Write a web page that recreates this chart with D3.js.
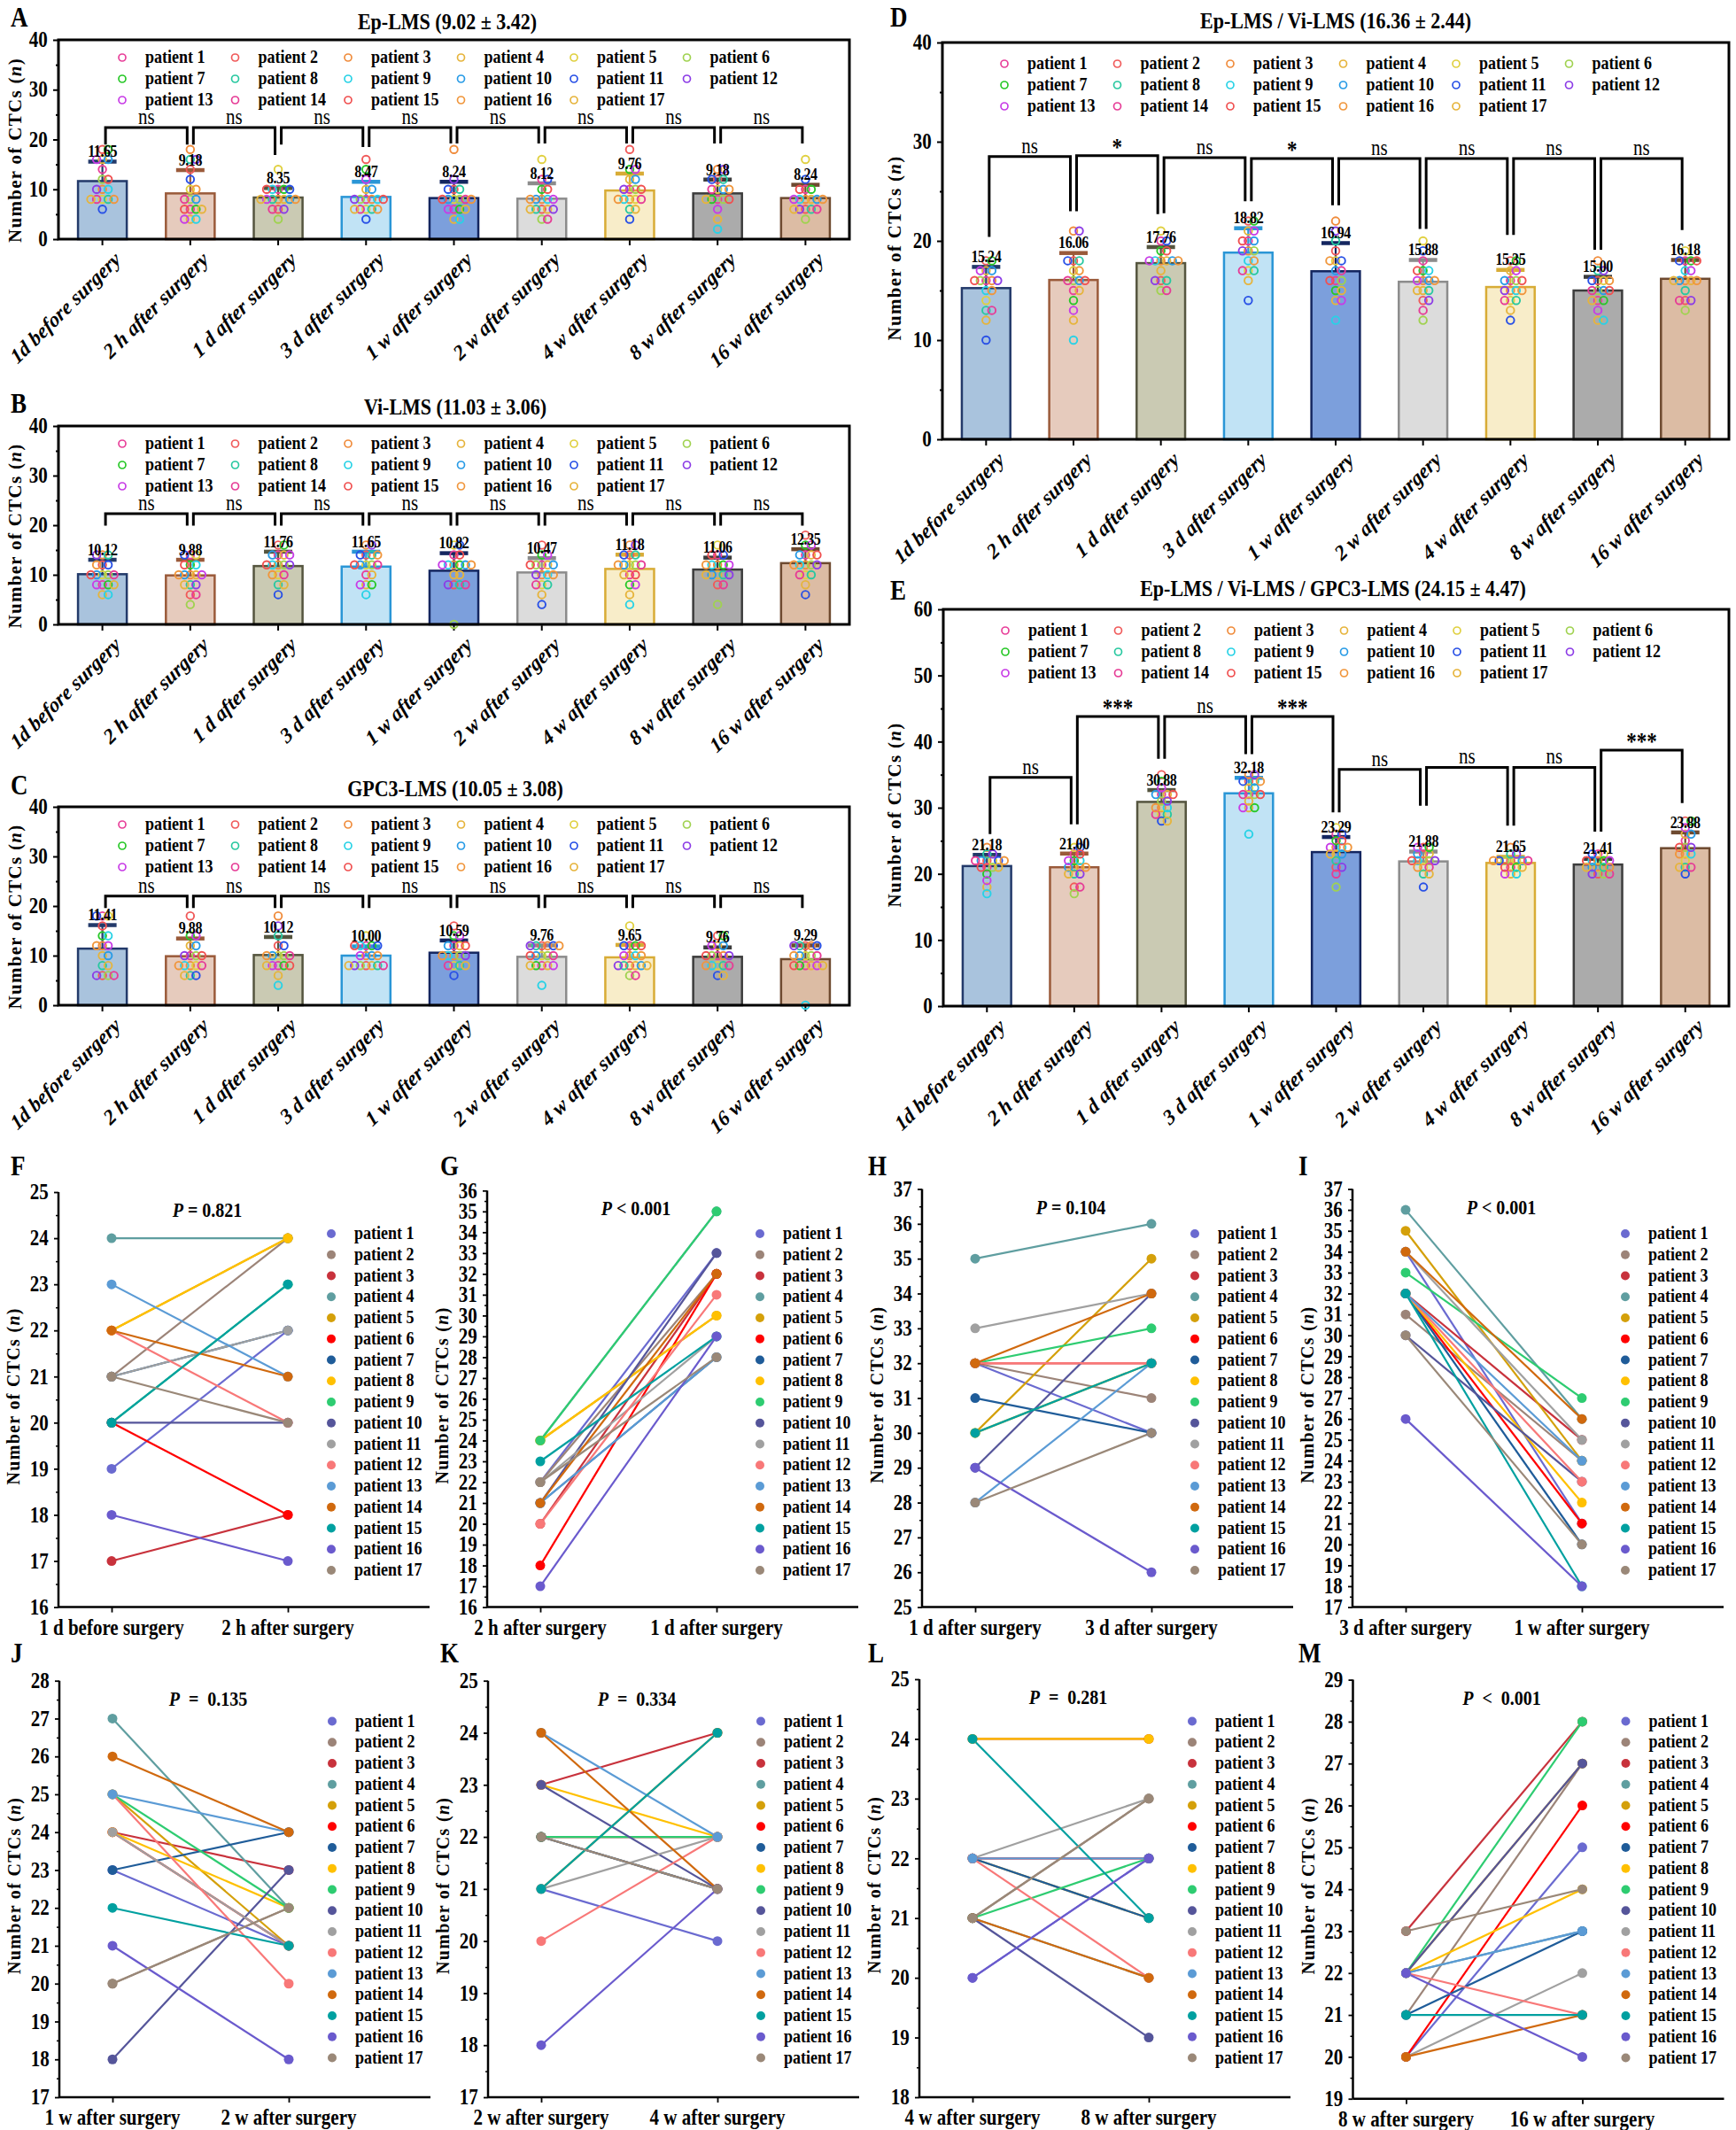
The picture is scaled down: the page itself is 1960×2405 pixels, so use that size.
<!DOCTYPE html>
<html><head><meta charset="utf-8">
<script src="https://d3js.org/d3.v7.min.js"></script>
<style>body{margin:0;background:#fff}</style>
</head><body>
<svg id="c" width="1960" height="2405" xmlns="http://www.w3.org/2000/svg"></svg>
<script>
// ---------------- DATA ----------------
const timepoints = ["1d before surgery","2 h after surgery","1 d after surgery","3 d after surgery","1 w after surgery","2 w after surgery","4 w after surgery","8 w after surgery","16 w after surgery"];
const patients = ["patient 1","patient 2","patient 3","patient 4","patient 5","patient 6","patient 7","patient 8","patient 9","patient 10","patient 11","patient 12","patient 13","patient 14","patient 15","patient 16","patient 17"];
const barFill   = ["#a9c3dd","#e6cbbd","#cacab3","#c1e3f5","#7c9fdc","#dcdcdc","#f8edc9","#ababab","#dcbca4"];
const barStroke = ["#233a6a","#9a5a3a","#55553f","#2a96d6","#142660","#8c8c8c","#d8ac36","#3c3c3c","#6e4a30"];
const dotColors = ["#e8409a","#f05a5a","#f08c3c","#e6b43c","#e0d040","#a0d250","#28c828","#28c8a0","#28d2e6","#289be6","#2850e6","#8c3ce6","#c83ce6","#e63c96","#f05050","#f0963c","#e6b43c"];
const lineColors = ["#6a6ad0","#9c8478","#c8323c","#5f9ea0","#d4a00a","#ff0000","#1f5c99","#ffc000","#2ecc71","#55559a","#a0a0a0","#f87878","#5b9bd5","#d0690e","#00a0a0","#6a5acd","#9a8878"];

// Panel A: Ep-LMS
const meansEp = [11.65,9.18,8.35,8.47,8.24,8.12,9.76,9.18,8.24];
const sdsEp   = [3.95,4.72,1.95,3.08,3.31,3.13,3.44,2.82,2.71];
const pointsEp = [
 [14,18,10,16,8,12,18,8,10,16,6,10,16,8,12,8,8],
 [6,14,18,4,10,8,6,16,4,8,12,16,4,8,6,10,6],
 [10,6,8,8,14,4,10,8,10,8,10,6,8,6,10,8,8],
 [8,16,8,10,6,8,14,6,8,10,4,8,12,6,8,6,6],
 [6,10,18,4,8,8,6,10,4,8,10,12,6,8,8,8,6],
 [12,6,8,6,16,4,10,6,8,8,12,6,8,4,10,8,6],
 [10,18,8,12,8,10,14,6,8,12,4,10,14,8,10,8,6],
 [8,12,14,4,10,8,8,12,2,10,12,14,6,10,8,10,8],
 [10,6,8,8,16,4,10,6,8,8,12,6,8,6,10,8,6]];
const sigEp = ["ns","ns","ns","ns","ns","ns","ns","ns"];
const brTopEp = [22.4,22.4,22.4,22.4,22.4,22.4,22.4,22.4];
const brLeftEp = [19.0,19.0,19.0,18.5,19.2,19.2,19.2,19.2];
const brRightEp = [19.0,16.9,18.5,19.2,19.2,19.2,19.2,19.2];

// Panel B: Vi-LMS
const meansVi = [10.12,9.88,11.76,11.65,10.82,10.47,11.18,11.06,12.35];
const sdsVi   = [2.95,3.19,2.94,3.05,3.58,2.93,2.92,2.44,2.85];
const pointsVi = [
 [8,12,14,6,10,10,8,14,6,10,12,14,8,10,10,12,8],
 [14,6,10,10,14,4,12,8,12,10,14,8,10,6,12,10,8],
 [14,16,12,14,10,12,16,8,12,14,6,12,14,10,12,10,8],
 [10,14,16,8,12,12,8,14,6,12,14,16,8,12,12,14,10],
 [14,8,12,10,16,0,12,8,12,12,16,8,12,8,14,12,10],
 [12,16,10,12,8,12,14,8,10,12,4,10,14,8,12,10,6],
 [10,14,16,6,12,12,8,14,4,12,14,16,8,12,10,12,10],
 [14,8,12,10,16,4,12,10,12,10,14,10,12,8,14,12,10],
 [14,18,12,14,10,12,16,10,12,14,6,12,16,10,14,12,8]];
const sigVi = ["ns","ns","ns","ns","ns","ns","ns","ns"];
const brTopVi = [22.3,22.3,22.3,22.3,22.3,22.3,22.3,22.3];
const brLeftVi = [19.9,19.9,19.9,19.9,19.9,19.9,19.9,19.9];
const brRightVi = [19.9,19.9,19.9,19.9,19.9,19.9,19.9,19.9];

// Panel C: GPC3-LMS
const meansGp = [11.41,9.88,10.12,10.00,10.59,9.76,9.65,9.76,9.29];
const sdsGp   = [4.79,3.62,3.68,1.90,2.51,2.34,2.55,1.94,2.81];
const pointsGp = [
 [18,6,12,10,18,6,14,8,14,10,18,6,12,6,16,12,8],
 [10,18,8,12,8,10,14,6,8,12,6,10,14,8,10,8,6],
 [8,12,18,6,10,10,8,14,4,10,12,16,8,10,8,10,8],
 [12,8,10,8,14,8,12,8,12,10,12,8,10,8,12,10,8],
 [12,16,10,12,8,10,14,8,10,12,6,10,14,8,12,10,8],
 [8,12,12,8,10,10,8,12,4,10,12,12,8,10,10,12,8],
 [12,8,10,8,16,6,12,8,10,8,12,8,10,6,12,10,8],
 [10,14,10,12,8,10,14,8,8,12,6,10,12,8,10,8,6],
 [8,12,12,8,10,10,8,12,0,10,12,12,8,10,8,10,8]];
const sigGp = ["ns","ns","ns","ns","ns","ns","ns","ns"];
const brTopGp = [22.0,22.0,22.0,22.0,22.0,22.0,22.0,22.0];
const brLeftGp = [19.6,19.6,19.6,19.6,19.6,19.6,19.6,19.6];
const brRightGp = [19.6,19.6,19.6,19.6,19.6,19.6,19.6,19.6];

// Panel D: Ep-LMS / Vi-LMS
const meansEV = [15.24,16.06,17.76,18.82,16.94,15.88,15.35,15.00,16.18];
const sdsEV   = [2.16,2.74,1.64,2.48,2.86,2.22,1.75,1.40,1.92];
const pointsEV = [
 [16,18,16,17,14,16,18,13,15,17,10,16,17,13,16,15,12],
 [15,18,21,12,17,16,14,18,10,16,18,21,13,16,16,17,15],
 [20,16,18,18,21,15,19,16,18,18,20,16,18,15,19,18,17],
 [20,22,19,21,17,19,22,17,18,20,14,19,21,17,20,18,16],
 [16,19,22,14,18,16,15,20,12,17,18,21,14,17,16,18,15],
 [18,14,16,15,20,12,17,15,17,16,19,14,16,13,17,16,15],
 [16,18,15,17,14,16,18,14,15,16,12,15,17,14,16,15,13],
 [14,16,18,12,16,15,14,17,12,15,16,17,13,15,15,16,14],
 [18,14,16,16,19,13,18,15,17,16,18,14,17,14,18,16,16]];
const sigEV = ["ns","*","ns","*","ns","ns","ns","ns"];
const brTopEV = [28.5,28.6,28.4,28.3,28.3,28.3,28.3,28.3];
const brLeftEV = [20.4,23.0,22.8,24.0,23.6,21.2,20.6,19.1];
const brRightEV = [23.0,22.7,24.0,23.6,21.2,20.6,19.1,21.1];

// Panel E: Ep-LMS / Vi-LMS / GPC3-LMS
const meansEVG = [21.18,21.00,30.88,32.18,23.29,21.88,21.65,21.41,23.88];
const sdsEVG   = [1.72,2.10,1.82,2.37,2.31,1.52,0.95,0.89,2.42];
const pointsEVG = [
 [21,22,24,18,22,21,20,23,17,22,22,23,19,22,21,22,21],
 [23,18,21,21,24,17,22,20,22,21,24,20,22,18,23,21,20],
 [32,35,30,32,29,31,34,29,30,32,28,31,33,29,32,30,28],
 [32,34,35,30,33,32,30,34,26,33,34,35,30,32,32,34,31],
 [26,21,24,23,27,18,25,22,24,23,26,21,24,20,25,24,23],
 [23,24,22,23,21,22,24,20,22,23,18,22,24,21,22,21,20],
 [21,22,24,20,22,22,21,23,20,22,22,23,20,22,21,22,21],
 [23,20,22,21,23,20,22,21,22,21,23,20,22,20,22,21,21],
 [25,28,23,26,22,24,28,21,23,26,20,24,27,21,24,23,21]];
const sigEVG = ["ns","***","ns","***","ns","ns","ns","***"];
const brTopEVG = [34.6,43.8,43.8,43.8,35.8,36.1,36.1,38.7];
const brLeftEVG = [26.0,27.5,37.4,38.1,29.3,30.3,27.3,26.4];
const brRightEVG = [27.5,37.4,38.1,29.3,30.3,27.3,26.4,30.7];

// Paired panels F-M
const beforeF = [19,21,17,24,22,20,21,22,20,20,21,22,23,22,20,18,21];
const afterF  = [22,24,18,24,24,18,22,24,23,20,22,20,21,21,23,17,20];
const beforeG = [22,22,20,24,24,18,21,24,24,21,22,20,21,21,23,17,22];
const afterG  = [33,32,32,35,30,32,28,30,35,33,29,31,28,32,29,29,28];
const beforeH = [32,32,32,35,30,32,31,30,32,29,33,32,28,32,30,29,28];
const afterH  = [30,31,32,36,35,32,30,32,33,34,34,32,32,34,32,26,30];
const beforeI = [34,31,32,36,35,32,32,32,33,30,34,32,32,34,32,26,30];
const afterI  = [21,24,25,26,24,21,20,22,27,23,25,23,24,26,18,18,20];
const beforeJ = [23,20,24,27,25,24,23,24,25,18,24,25,25,26,22,21,20];
const afterJ  = [21,22,23,22,21,21,24,22,22,23,21,20,24,24,21,18,22];
const beforeK = [21,22,23,22,21,22,22,23,22,23,21,20,24,24,21,18,22];
const afterK  = [20,21,24,22,24,22,21,22,22,21,22,22,22,21,24,21,21];
const beforeL = [20,21,24,21,22,22,22,24,21,21,22,22,22,21,24,20,21];
const afterL  = [22,23,24,20,21,22,21,24,22,19,23,20,22,20,21,22,23];
const beforeM = [20,21,23,22,22,20,21,22,22,22,20,22,22,20,21,22,23];
const afterM  = [25,27,28,23,27,26,23,24,28,27,22,21,23,21,21,20,24];

// ---------------- DRAWING ----------------
const FONT = "'Liberation Serif','Times New Roman',serif";
const SX = 0.87, SK = 1.15;   // tall-narrow text look of the original
const svg = d3.select("#c");
svg.append("rect").attr("width",1960).attr("height",2405).attr("fill","#fff");

function txt(g, x, y, s, size, opts={}) {
  return g.append("text").attr("transform",`translate(${x},${y}) scale(${SX},1)`).text(s)
    .attr("font-family",FONT).attr("font-size",size*SK)
    .attr("font-weight",opts.weight||"bold")
    .attr("font-style",opts.style||"normal")
    .attr("text-anchor",opts.anchor||"start")
    .attr("fill","#000");
}
function yLabel(g, x, y, size) {
  const t = g.append("text").attr("transform",`translate(${x},${y}) rotate(-90)`)
    .attr("text-anchor","middle").attr("font-family",FONT).attr("font-weight","bold")
    .attr("font-size",size).attr("letter-spacing","1.3px");
  t.append("tspan").text("Number of CTCs (");
  t.append("tspan").attr("font-style","italic").text("n");
  t.append("tspan").text(")");
}
function styleTickText(sel, size) {
  sel.selectAll("text").attr("font-family",FONT).attr("font-size",size*SK).attr("font-weight","bold")
    .attr("fill","#000").attr("transform",`scale(${SX},1)`);
}

function barPanel(o) {
  const g = svg.append("g");
  const x = d3.scaleBand().domain(timepoints).range([o.x0,o.x1]).paddingInner(0.445).paddingOuter(0.2225);
  const y = d3.scaleLinear().domain([0,o.yMax]).range([o.yB,o.yT]);
  const cx = c => x(c) + x.bandwidth()/2;

  const major = d3.range(0, o.yMax+1, 10);
  const minor = d3.range(5, o.yMax, 10);
  const ax = g.append("g").attr("transform",`translate(${o.x0},0)`)
    .call(d3.axisLeft(y).tickValues(major).tickSize(6).tickPadding(8).tickFormat(d3.format("d")));
  ax.select(".domain").remove();
  ax.selectAll("line").attr("stroke","#000").attr("stroke-width",2);
  styleTickText(ax, 21);
  const axm = g.append("g").attr("transform",`translate(${o.x0},0)`)
    .call(d3.axisLeft(y).tickValues(minor).tickSize(3).tickFormat(""));
  axm.select(".domain").remove();
  axm.selectAll("line").attr("stroke","#000").attr("stroke-width",2);

  const bx = g.append("g").attr("transform",`translate(0,${o.yB})`)
    .call(d3.axisBottom(x).tickSize(7).tickFormat(""));
  bx.select(".domain").remove();
  bx.selectAll("line").attr("stroke","#000").attr("stroke-width",2);
  timepoints.forEach(c => {
    g.append("text").attr("transform",`translate(${cx(c)+22},${o.yB+25}) scale(1,1.1) rotate(-42)`)
      .attr("text-anchor","end").attr("font-family",FONT).attr("font-size",22)
      .attr("font-weight","bold").attr("font-style","italic").text(c);
  });

  g.selectAll(".bar").data(timepoints).enter().append("rect")
    .attr("x", c=>x(c)).attr("width", x.bandwidth())
    .attr("y", (c,i)=>y(o.means[i])).attr("height",(c,i)=>o.yB - y(o.means[i]))
    .attr("fill",(c,i)=>barFill[i]).attr("stroke",(c,i)=>barStroke[i]).attr("stroke-width",2.5);

  timepoints.forEach((c,i) => {
    const top = y(o.means[i]+o.sds[i]);
    g.append("line").attr("x1",cx(c)).attr("x2",cx(c)).attr("y1",y(o.means[i])).attr("y2",top)
      .attr("stroke",barStroke[i]).attr("stroke-width",2.2);
    g.append("rect").attr("x",cx(c)-16).attr("width",32).attr("y",top-2).attr("height",4.5)
      .attr("fill",barStroke[i]);
  });

  timepoints.forEach((c,i) => {
    const seen = {};
    o.pts[i].forEach((v,p) => {
      const k = seen[v] || 0; seen[v] = k+1;
      const off = k===0 ? 0 : (k%2===1 ? 1 : -1) * Math.ceil(k/2) * 6.5;
      g.append("circle").attr("cx",cx(c)+off).attr("cy",y(v)).attr("r",4.3)
        .attr("fill","none").attr("stroke",dotColors[p]).attr("stroke-width",1.9);
    });
  });

  timepoints.forEach((c,i) => {
    txt(g, cx(c), y(o.means[i]+o.sds[i]) - 5, o.means[i].toFixed(2), 16, {anchor:"middle"})
      .attr("letter-spacing","-0.5px");
  });

  for (let j=0;j<8;j++) {
    const xa = cx(timepoints[j]) + 3.5, xb = cx(timepoints[j+1]) - 3.5;
    g.append("path").attr("d",`M${xa},${y(o.brL[j])}V${y(o.brT[j])}H${xb}V${y(o.brR[j])}`)
      .attr("fill","none").attr("stroke","#000").attr("stroke-width",3);
    const isStar = o.sig[j] !== "ns";
    txt(g,(xa+xb)/2, y(o.brT[j]) - (isStar? 1 : 4), o.sig[j], isStar?23:21, {anchor:"middle", weight: isStar?"bold":"normal"});
  }

  g.append("rect").attr("x",o.x0).attr("y",o.yT).attr("width",o.x1-o.x0).attr("height",o.yB-o.yT)
    .attr("fill","none").attr("stroke","#000").attr("stroke-width",3);

  patients.forEach((p,i) => {
    const r = Math.floor(i/6), c = i%6;
    const lx = o.x0 + o.legX + c*127.5, ly = o.yT + o.legY + r*24;
    g.append("circle").attr("cx",lx).attr("cy",ly).attr("r",4).attr("fill","none")
      .attr("stroke",dotColors[i]).attr("stroke-width",1.7);
    txt(g, lx+26, ly+6, p, 18);
  });

  txt(g, o.tx, o.ty, o.title, 22, {anchor:"middle"});
  txt(g, o.lx, o.ly, o.letter, 27);
  yLabel(g, o.ylx, (o.yT+o.yB)/2 + o.ylOff, 21);
}

barPanel({letter:"A",lx:12,ly:30,title:"Ep-LMS (9.02 \u00b1 3.42)",tx:505,ty:33,x0:66,x1:959,yT:45,yB:270,yMax:40,
  means:meansEp,sds:sdsEp,pts:pointsEp,sig:sigEp,brT:brTopEp,brL:brLeftEp,brR:brRightEp,legX:72,legY:20,ylx:24,ylOff:12});
barPanel({letter:"B",lx:12,ly:466,title:"Vi-LMS (11.03 \u00b1 3.06)",tx:514,ty:468,x0:66,x1:959,yT:481,yB:705,yMax:40,
  means:meansVi,sds:sdsVi,pts:pointsVi,sig:sigVi,brT:brTopVi,brL:brLeftVi,brR:brRightVi,legX:72,legY:20,ylx:24,ylOff:12});
barPanel({letter:"C",lx:12,ly:897,title:"GPC3-LMS (10.05 \u00b1 3.08)",tx:514,ty:899,x0:66,x1:959,yT:911,yB:1135,yMax:40,
  means:meansGp,sds:sdsGp,pts:pointsGp,sig:sigGp,brT:brTopGp,brL:brLeftGp,brR:brRightGp,legX:72,legY:20,ylx:24,ylOff:12});
barPanel({letter:"D",lx:1005,ly:30,title:"Ep-LMS / Vi-LMS (16.36 \u00b1 2.44)",tx:1508,ty:32,x0:1064,x1:1952,yT:48,yB:496,yMax:40,
  means:meansEV,sds:sdsEV,pts:pointsEV,sig:sigEV,brT:brTopEV,brL:brLeftEV,brR:brRightEV,legX:70,legY:24,ylx:1017,ylOff:8});
barPanel({letter:"E",lx:1005,ly:677,title:"Ep-LMS / Vi-LMS / GPC3-LMS (24.15 \u00b1 4.47)",tx:1505,ty:673,x0:1065,x1:1952,yT:688,yB:1136,yMax:60,
  means:meansEVG,sds:sdsEVG,pts:pointsEVG,sig:sigEVG,brT:brTopEVG,brL:brLeftEVG,brR:brRightEVG,legX:70,legY:24,ylx:1017,ylOff:8});

function pairPanel(o) {
  const g = svg.append("g");
  const x = d3.scalePoint().domain(o.labels).range([o.x0+60, o.x0+259]);
  const y = d3.scaleLinear().domain([o.yMin,o.yMax]).range([o.yB,o.yT]);
  const major = d3.range(o.yMin, o.yMax+0.01, 1);
  const minor = d3.range(o.yMin+0.5, o.yMax, 1);
  const ax = g.append("g").attr("transform",`translate(${o.x0},0)`)
    .call(d3.axisLeft(y).tickValues(major).tickSize(5).tickPadding(8).tickFormat(d3.format("d")));
  ax.select(".domain").attr("stroke","#000").attr("stroke-width",2.5).attr("d",`M0,${o.yB}V${o.yT}`);
  ax.selectAll("line").attr("stroke","#000").attr("stroke-width",1.8);
  styleTickText(ax, 21);
  const axm = g.append("g").attr("transform",`translate(${o.x0},0)`)
    .call(d3.axisLeft(y).tickValues(minor).tickSize(3).tickFormat(""));
  axm.select(".domain").remove();
  axm.selectAll("line").attr("stroke","#000").attr("stroke-width",1.5);
  const bx = g.append("g").attr("transform",`translate(0,${o.yB})`)
    .call(d3.axisBottom(x).tickSize(6).tickFormat(""));
  bx.select(".domain").attr("d",`M${o.x0},0H${o.x0+419}`).attr("stroke","#000").attr("stroke-width",2.5);
  bx.selectAll("line").attr("stroke","#000").attr("stroke-width",1.8);
  o.labels.forEach(l => txt(g, x(l), o.yB+31, l, 21, {anchor:"middle"}));

  patients.forEach((p,i) => {
    g.append("line").attr("x1",x(o.labels[0])).attr("y1",y(o.before[i]))
      .attr("x2",x(o.labels[1])).attr("y2",y(o.after[i]))
      .attr("stroke",lineColors[i]).attr("stroke-width",2.2);
  });
  patients.forEach((p,i) => {
    g.append("circle").attr("cx",x(o.labels[0])).attr("cy",y(o.before[i])).attr("r",5.5).attr("fill",lineColors[i]);
    g.append("circle").attr("cx",x(o.labels[1])).attr("cy",y(o.after[i])).attr("r",5.5).attr("fill",lineColors[i]);
  });

  patients.forEach((p,i) => {
    const ly = o.legTop + i*23.75;
    g.append("circle").attr("cx",o.x0+308).attr("cy",ly).attr("r",5).attr("fill",lineColors[i]);
    txt(g, o.x0+334, ly+6, p, 18);
  });

  const pt = g.append("text").attr("transform",`translate(${o.x0+168},${o.yT+28}) scale(${SX},1)`).attr("text-anchor","middle")
    .attr("font-family",FONT).attr("font-size",20*SK).attr("font-weight","bold").attr("xml:space","preserve").style("white-space","pre");
  pt.append("tspan").attr("font-style","italic").text("P");
  pt.append("tspan").text(o.ptext);

  txt(g, o.lx, o.ly, o.letter, 27);
  yLabel(g, o.x0-44, (o.yT+o.yB)/2 - 4, 20);
}

const topRowB = 1814.6;
const botRowB = 2368;
pairPanel({letter:"F",lx:12,ly:1327,x0:66,yB:topRowB,yT:1346,yMin:16,yMax:25,labels:["1 d before surgery","2 h after surgery"],before:beforeF,after:afterF,ptext:" = 0.821",legTop:1393});
pairPanel({letter:"G",lx:497,ly:1327,x0:550,yB:topRowB,yT:1344.3,yMin:16,yMax:36,labels:["2 h after surgery","1 d after surgery"],before:beforeG,after:afterG,ptext:" < 0.001",legTop:1393});
pairPanel({letter:"H",lx:980,ly:1327,x0:1041,yB:topRowB,yT:1342.5,yMin:25,yMax:37,labels:["1 d after surgery","3 d after surgery"],before:beforeH,after:afterH,ptext:" = 0.104",legTop:1393});
pairPanel({letter:"I",lx:1466,ly:1327,x0:1527,yB:topRowB,yT:1342.5,yMin:17,yMax:37,labels:["3 d after surgery","1 w after surgery"],before:beforeI,after:afterI,ptext:" < 0.001",legTop:1393});
pairPanel({letter:"J",lx:12,ly:1877,x0:67,yB:botRowB,yT:1897.7,yMin:17,yMax:28,labels:["1 w after surgery","2 w after surgery"],before:beforeJ,after:afterJ,ptext:"  =  0.135",legTop:1943.5});
pairPanel({letter:"K",lx:497,ly:1877,x0:551,yB:botRowB,yT:1897.7,yMin:17,yMax:25,labels:["2 w after surgery","4 w after surgery"],before:beforeK,after:afterK,ptext:"  =  0.334",legTop:1943.5});
pairPanel({letter:"L",lx:980,ly:1877,x0:1038,yB:botRowB,yT:1896,yMin:18,yMax:25,labels:["4 w after surgery","8 w after surgery"],before:beforeL,after:afterL,ptext:"  =  0.281",legTop:1943.5});
pairPanel({letter:"M",lx:1466,ly:1877,x0:1527.5,yB:2369.7,yT:1896.6,yMin:19,yMax:29,labels:["8 w after surgery","16 w after surgery"],before:beforeM,after:afterM,ptext:"  <  0.001",legTop:1943.5});
</script>
</body></html>
